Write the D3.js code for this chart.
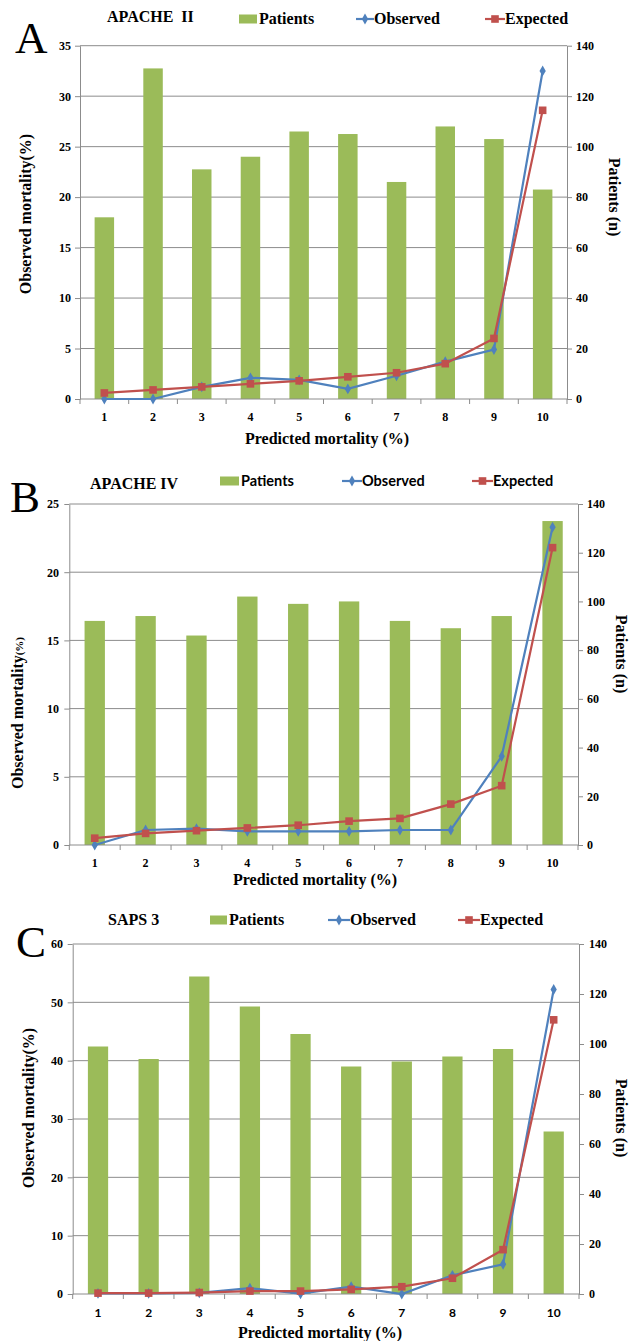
<!DOCTYPE html>
<html>
<head>
<meta charset="utf-8">
<script src="https://cdn.jsdelivr.net/npm/d3@7"></script>
<style>
  html, body { margin: 0; padding: 0; background: #fff; }
  svg { display: block; }
</style>
</head>
<body>
<svg id="chart" width="630" height="1341"></svg>
<script>
// ---------- DATA ----------
const categories = [1, 2, 3, 4, 5, 6, 7, 8, 9, 10];

const panelLetters = ["A", "B", "C"];
const panelTitles = ["APACHE  II", "APACHE IV", "SAPS 3"];
const legendLabels = ["Patients", "Observed", "Expected"];
const xAxisTitle = "Predicted mortality (%)";
const leftAxisTitle = "Observed mortality";
const leftAxisUnit = "(%)";
const rightAxisTitle = "Patients (n)";

// APACHE II
const apache2Patients = [72, 131, 91, 96, 106, 105, 86, 108, 103, 83];
const apache2Observed = [0, 0, 1.2, 2.1, 1.9, 1.0, 2.3, 3.7, 4.9, 32.5];
const apache2Expected = [0.6, 0.9, 1.2, 1.5, 1.8, 2.2, 2.6, 3.5, 6.0, 28.6];
const apache2LeftTicks = [0, 5, 10, 15, 20, 25, 30, 35];

// APACHE IV
const apache4Patients = [92, 94, 86, 102, 99, 100, 92, 89, 94, 133];
const apache4Observed = [0, 1.1, 1.2, 1.0, 1.0, 1.0, 1.1, 1.1, 6.5, 23.3];
const apache4Expected = [0.5, 0.85, 1.05, 1.25, 1.45, 1.75, 1.95, 3.0, 4.35, 21.8];
const apache4LeftTicks = [0, 5, 10, 15, 20, 25];

// SAPS 3
const saps3Patients = [99, 94, 127, 115, 104, 91, 93, 95, 98, 65];
const saps3Observed = [0.1, 0.1, 0.2, 1.0, 0.05, 1.25, 0, 3.2, 5.1, 52.2];
const saps3Expected = [0.15, 0.15, 0.25, 0.5, 0.5, 0.8, 1.25, 2.7, 7.6, 47];
const saps3LeftTicks = [0, 10, 20, 30, 40, 50, 60];

const rightTicks = [0, 20, 40, 60, 80, 100, 120, 140];

// ---------- STYLE / LAYOUT ----------
const SERIF = "'Liberation Serif', 'Times New Roman', serif";
const SANS = "Lato, 'Liberation Sans', Arial, sans-serif";
const GREEN = "#9BBB59", BLUE = "#4F81BD", RED = "#C0504D", GRID = "#8c8c8c";

const panels = [
  {
    patients: apache2Patients, observed: apache2Observed, expected: apache2Expected, leftTicks: apache2LeftTicks,
    x0: 80, x1: 567, yTop: 45.7, yBot: 399,
    letter: { x: 15, y: 53 }, title: { x: 107, y: 22 },
    legendY: 24, legendFont: SERIF, legendSize: 16,
    legend: { patSw: 239, patTx: 259, obsL: 356, obsTx: 374, expL: 485, expTx: 505 },
    xTickFont: SERIF, xTickY: 421, xTitle: { x: 327, y: 444 },
    leftTitle: { x: 31, y: 214 }, leftUnitSmall: false,
    rightTitle: { x: 609, y: 197 },
    leftLabelX: 71, rightLabelX: 576
  },
  {
    patients: apache4Patients, observed: apache4Observed, expected: apache4Expected, leftTicks: apache4LeftTicks,
    x0: 69.3, x1: 578, yTop: 504, yBot: 845,
    letter: { x: 10, y: 512 }, title: { x: 90, y: 489 },
    legendY: 486, legendFont: SANS, legendSize: 14.5,
    legend: { patSw: 220, patTx: 241, obsL: 342, obsTx: 362, expL: 472, expTx: 493 },
    xTickFont: SERIF, xTickY: 867, xTitle: { x: 315, y: 885 },
    leftTitle: { x: 23, y: 713 }, leftUnitSmall: true,
    rightTitle: { x: 616, y: 654 },
    leftLabelX: 59, rightLabelX: 587
  },
  {
    patients: saps3Patients, observed: saps3Observed, expected: saps3Expected, leftTicks: saps3LeftTicks,
    x0: 72.7, x1: 579, yTop: 944, yBot: 1294,
    letter: { x: 16, y: 957 }, title: { x: 108, y: 925 },
    legendY: 925, legendFont: SERIF, legendSize: 16,
    legend: { patSw: 210, patTx: 229, obsL: 328, obsTx: 350, expL: 458, expTx: 480 },
    xTickFont: SANS, xTickY: 1317, xTitle: { x: 320, y: 1338 },
    leftTitle: { x: 34, y: 1108 }, leftUnitSmall: false,
    rightTitle: { x: 616, y: 1118 },
    leftLabelX: 63, rightLabelX: 589
  }
];

const svg = d3.select("#chart");

panels.forEach((p, i) => {
  const g = svg.append("g");
  const leftMax = p.leftTicks[p.leftTicks.length - 1];
  const rightMax = rightTicks[rightTicks.length - 1];

  const xBand = d3.scaleBand().domain(categories).range([p.x0, p.x1])
    .paddingInner(0.6).paddingOuter(0.3);
  const xEdge = d3.scaleLinear().domain([0, categories.length]).range([p.x0, p.x1]);
  const yL = d3.scaleLinear().domain([0, leftMax]).range([p.yBot, p.yTop]);
  const yR = d3.scaleLinear().domain([0, rightMax]).range([p.yBot, p.yTop]);
  const cx = c => xBand(c) + xBand.bandwidth() / 2;

  // gridlines
  g.append("g").selectAll("line").data(p.leftTicks.filter(t => t > 0)).join("line")
    .attr("x1", p.x0).attr("x2", p.x1)
    .attr("y1", d => yL(d)).attr("y2", d => yL(d))
    .attr("stroke", GRID).attr("stroke-width", 1);

  // bars
  g.append("g").selectAll("rect").data(categories).join("rect")
    .attr("x", c => xBand(c))
    .attr("width", xBand.bandwidth())
    .attr("y", (c, k) => yR(p.patients[k]))
    .attr("height", (c, k) => p.yBot - yR(p.patients[k]))
    .attr("fill", GREEN);

  // left axis
  const la = g.append("g").attr("transform", `translate(${p.x0},0)`)
    .call(d3.axisLeft(yL).tickValues(p.leftTicks).tickSize(5).tickSizeOuter(0).tickPadding(p.x0 - p.leftLabelX - 5));
  // right axis
  const ra = g.append("g").attr("transform", `translate(${p.x1},0)`)
    .call(d3.axisRight(yR).tickValues(rightTicks).tickSize(5).tickSizeOuter(0).tickPadding(p.rightLabelX - p.x1 - 5));
  [la, ra].forEach(a => {
    a.select(".domain").attr("stroke", GRID);
    a.selectAll(".tick line").attr("stroke", GRID);
    a.selectAll(".tick text").attr("fill", "#000")
      .style("font-family", SERIF).style("font-weight", "bold").style("font-size", "12px");
  });

  // x axis baseline + boundary ticks
  g.append("line").attr("x1", p.x0).attr("x2", p.x1).attr("y1", p.yBot).attr("y2", p.yBot)
    .attr("stroke", GRID);
  g.append("g").selectAll("line").data(d3.range(0, categories.length + 1)).join("line")
    .attr("x1", d => xEdge(d)).attr("x2", d => xEdge(d))
    .attr("y1", p.yBot).attr("y2", p.yBot + 5).attr("stroke", GRID);
  g.append("g").selectAll("text").data(categories).join("text")
    .attr("x", c => cx(c)).attr("y", p.xTickY)
    .attr("text-anchor", "middle")
    .style("font-family", p.xTickFont).style("font-weight", "bold").style("font-size", "12px")
    .text(c => c);

  // lines
  const line = data => d3.line().x((d, k) => cx(categories[k])).y(d => yL(d))(data);
  g.append("path").attr("d", line(p.observed)).attr("fill", "none").attr("stroke", BLUE).attr("stroke-width", 2.2);
  g.append("path").attr("d", line(p.expected)).attr("fill", "none").attr("stroke", RED).attr("stroke-width", 2.2);
  const diamond = d3.symbol().type(d3.symbolDiamond).size(34);
  g.append("g").selectAll("path").data(p.observed).join("path")
    .attr("d", diamond)
    .attr("transform", (d, k) => `translate(${cx(categories[k])},${yL(d)})`)
    .attr("fill", BLUE);
  g.append("g").selectAll("rect").data(p.expected).join("rect")
    .attr("x", (d, k) => cx(categories[k]) - 3.8).attr("y", d => yL(d) - 3.8)
    .attr("width", 7.6).attr("height", 7.6).attr("fill", RED);

  // panel letter
  g.append("text").attr("x", p.letter.x).attr("y", p.letter.y)
    .style("font-family", SERIF).style("font-size", "45px").text(panelLetters[i]);
  // title
  g.append("text").attr("x", p.title.x).attr("y", p.title.y)
    .style("font-family", SERIF).style("font-weight", "bold").style("font-size", "16px")
    .style("white-space", "pre").text(panelTitles[i]);

  // legend
  const L = p.legend, ly = p.legendY, mid = ly - 5;
  g.append("rect").attr("x", L.patSw).attr("y", mid - 4.5).attr("width", L.patTx - L.patSw - 2).attr("height", 9).attr("fill", GREEN);
  g.append("line").attr("x1", L.obsL).attr("x2", L.obsTx).attr("y1", mid).attr("y2", mid).attr("stroke", BLUE).attr("stroke-width", 2.2);
  g.append("path").attr("d", diamond).attr("transform", `translate(${(L.obsL + L.obsTx) / 2},${mid})`).attr("fill", BLUE);
  g.append("line").attr("x1", L.expL).attr("x2", L.expTx).attr("y1", mid).attr("y2", mid).attr("stroke", RED).attr("stroke-width", 2.2);
  g.append("rect").attr("x", (L.expL + L.expTx) / 2 - 3.8).attr("y", mid - 3.8).attr("width", 7.6).attr("height", 7.6).attr("fill", RED);
  [[L.patTx, 0], [L.obsTx, 1], [L.expTx, 2]].forEach(([x, k]) => {
    g.append("text").attr("x", x).attr("y", ly)
      .style("font-family", p.legendFont).style("font-weight", "bold").style("font-size", p.legendSize + "px")
      .text(legendLabels[k]);
  });

  // axis titles
  g.append("text").attr("x", p.xTitle.x).attr("y", p.xTitle.y).attr("text-anchor", "middle")
    .style("font-family", SERIF).style("font-weight", "bold").style("font-size", "16px")
    .text(xAxisTitle);
  const lt = g.append("text").attr("text-anchor", "middle")
    .attr("transform", `translate(${p.leftTitle.x},${p.leftTitle.y}) rotate(-90)`)
    .style("font-family", SERIF).style("font-weight", "bold").style("font-size", "16px");
  lt.append("tspan").text(leftAxisTitle);
  lt.append("tspan").style("font-size", p.leftUnitSmall ? "11px" : "16px").text(leftAxisUnit);
  g.append("text").attr("text-anchor", "middle")
    .attr("transform", `translate(${p.rightTitle.x},${p.rightTitle.y}) rotate(90)`)
    .style("font-family", SERIF).style("font-weight", "bold").style("font-size", "16px")
    .text(rightAxisTitle);
});
</script>
</body>
</html>
